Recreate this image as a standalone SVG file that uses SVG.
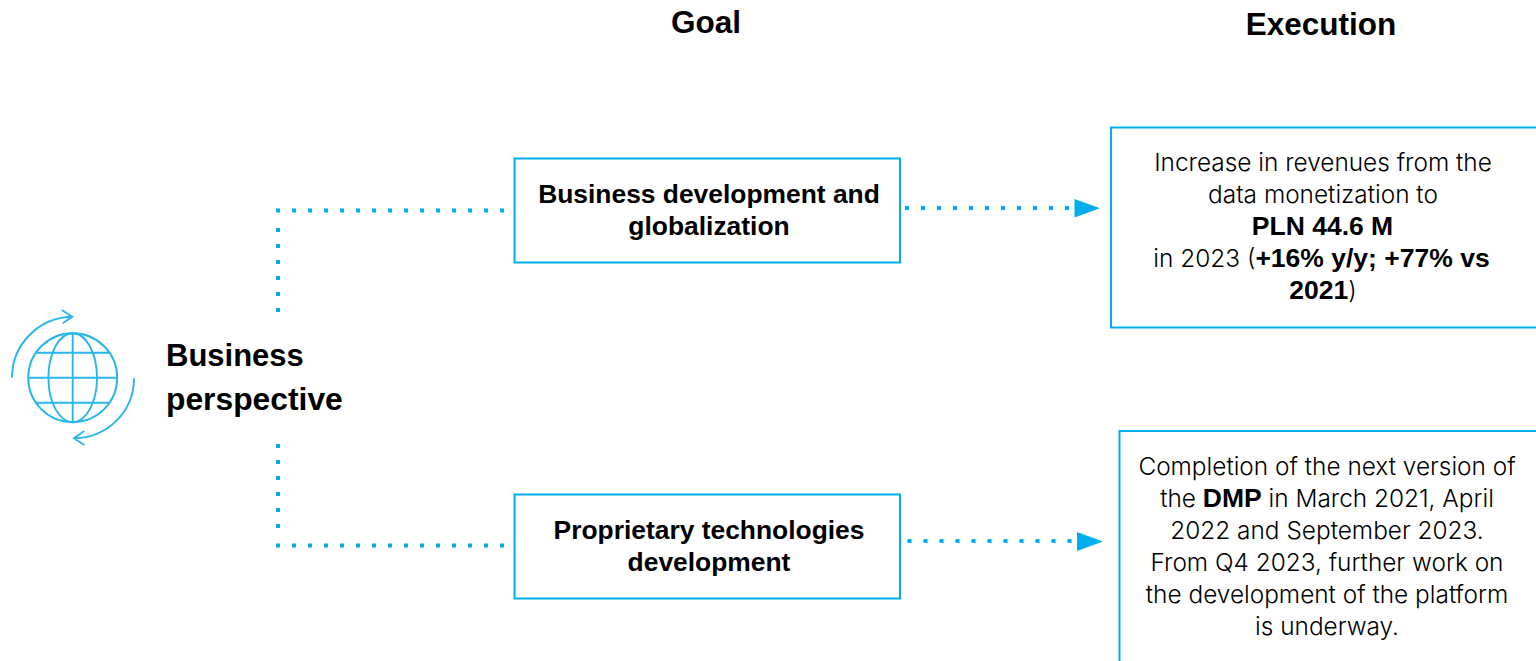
<svg xmlns="http://www.w3.org/2000/svg" width="1536" height="661" viewBox="0 0 1536 661">
<style>
text{font-family:"Liberation Sans",Arial,sans-serif;fill:#000}
.h{font-size:31.500px;font-weight:700;text-anchor:middle}
.side{font-size:31.800px;font-weight:700}
.g{font-size:26.400px;font-weight:700;text-anchor:middle}
.t{font-family:"Inter","Liberation Sans",sans-serif;font-size:24.400px;font-weight:300;text-anchor:middle}
.t tspan.b{font-family:"Liberation Sans",Arial,sans-serif;font-size:26.500px;font-weight:700}
.box{fill:#fff;stroke:#00aeef;stroke-width:2}
.dot{fill:none;stroke:#00aeef;stroke-width:4;stroke-dasharray:4 12}
.head{fill:#00aeef}
.ic{fill:none;stroke:#29b6ea;stroke-width:1.900}
</style>
<rect width="1536" height="661" fill="#fff"/>
<g id="connectors">
<path class="dot" d="M276 210.500H506"/>
<path class="dot" d="M278 228V312"/>
<path class="dot" d="M278 444V528"/>
<path class="dot" d="M276 545.500H506"/>
<path class="dot" d="M905 208H1069"/>
<polygon class="head" points="1074.500,199 1100,208.300 1074.500,217.500"/>
<path class="dot" d="M907.500 541H1071.500"/>
<polygon class="head" points="1077,532 1103,541.500 1077,551"/>
</g>
<g id="header-goal"><text class="h" x="706" y="33">Goal</text></g>
<g id="header-execution"><text class="h" x="1321" y="35">Execution</text></g>
<g id="business-perspective">
<g id="globe-icon">
<circle class="ic" cx="72.700" cy="377.700" r="44.500"/>
<ellipse class="ic" cx="72.700" cy="377.700" rx="24.300" ry="44.500"/>
<path class="ic" d="M72.700 333.200V422.200M28.200 377.700H117.200M36 352.700H109.500M36 402.700H109.500"/>
<path class="ic" d="M12 377.700C12 345 38 317.500 72 316.700M61.700 310L72.300 316.700L62.700 323.300"/>
<path class="ic" d="M134 378.300C134 411 108 438 74 438.300M84.300 431L74 438.300L84.300 445"/>
</g>
<text class="side" x="166" y="366" style="font-size:31px">Business</text>
<text class="side" x="166" y="410">perspective</text>
</g>
<g id="goal-1">
<rect class="box" x="514.500" y="158.500" width="385.500" height="104"/>
<text class="g" x="709" y="203">Business development and</text>
<text class="g" x="709" y="235">globalization</text>
</g>
<g id="goal-2">
<rect class="box" x="514.500" y="494.500" width="385.500" height="104"/>
<text class="g" x="709" y="539">Proprietary technologies</text>
<text class="g" x="709" y="571">development</text>
</g>
<g id="execution-1">
<rect class="box" x="1111" y="127.500" width="430" height="200"/>
<text class="t" x="1323" y="171">Increase in revenues from the</text>
<text class="t" x="1323" y="203">data monetization to</text>
<text class="t" x="1322.500" y="235"><tspan class="b">PLN 44.6 M</tspan></text>
<text class="t" x="1321.500" y="267">in 2023 (<tspan class="b">+16% y/y; +77% vs</tspan></text>
<text class="t" x="1323" y="299"><tspan class="b">2021</tspan>)</text>
</g>
<g id="execution-2">
<rect class="box" x="1119.500" y="431" width="430" height="240"/>
<text class="t" x="1327" y="475">Completion of the next version of</text>
<text class="t" x="1327" y="507">the <tspan class="b">DMP</tspan> in March 2021, April</text>
<text class="t" x="1327" y="539">2022 and September 2023.</text>
<text class="t" x="1327" y="571">From Q4 2023, further work on</text>
<text class="t" x="1327" y="603">the development of the platform</text>
<text class="t" x="1327" y="635">is underway.</text>
</g>
</svg>
